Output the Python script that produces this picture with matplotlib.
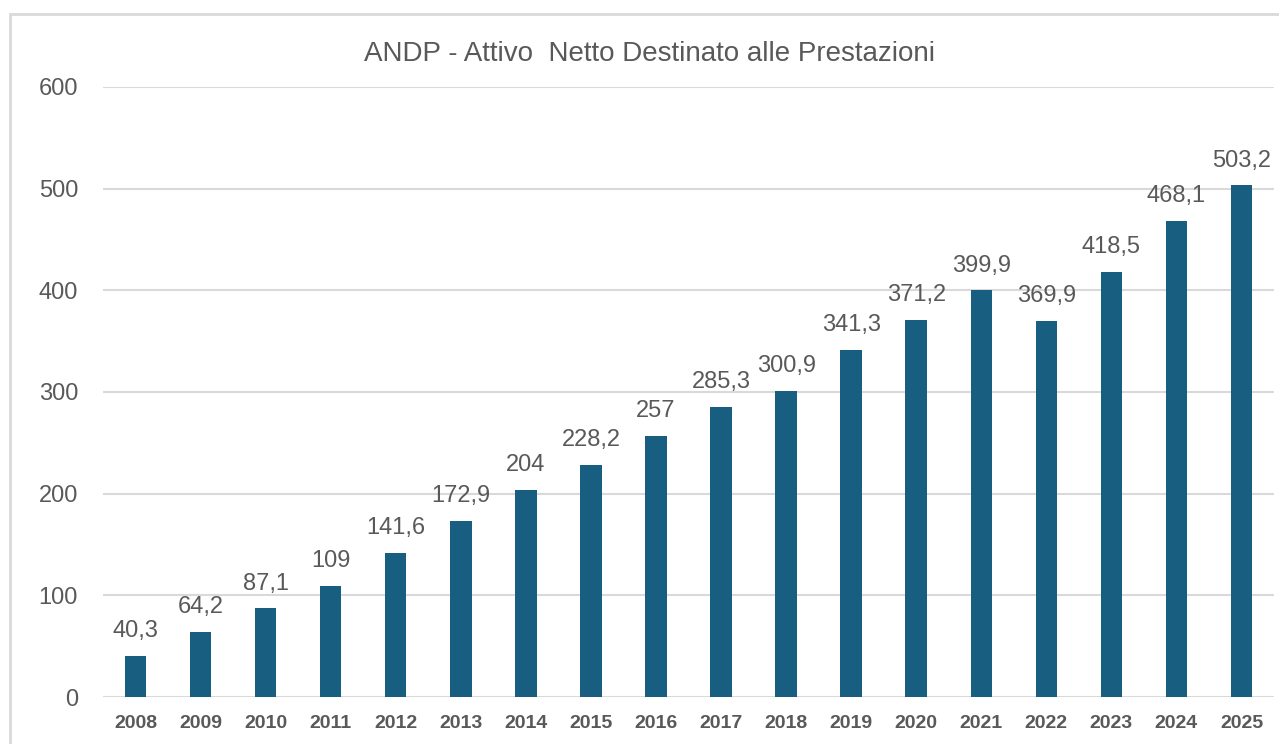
import numpy as np
import matplotlib.pyplot as plt
from matplotlib.patches import Rectangle

anni = ['2008', '2009', '2010', '2011', '2012', '2013', '2014', '2015', '2016',
        '2017', '2018', '2019', '2020', '2021', '2022', '2023', '2024', '2025']
andp = [40.3, 64.2, 87.1, 109, 141.6, 172.9, 204, 228.2, 257,
        285.3, 300.9, 341.3, 371.2, 399.9, 369.9, 418.5, 468.1, 503.2]
y_ticks = [0, 100, 200, 300, 400, 500, 600]

plt.rcParams['font.family'] = ['Liberation Sans', 'DejaVu Sans']
grigio = '#595959'

fig = plt.figure(figsize=(12.79, 7.44), dpi=100)
ax = fig.add_axes([103 / 1279, 1 - 697 / 744, 1171 / 1279, 610 / 744])

x = np.arange(len(anni))
bars = ax.bar(x, andp, width=0.33, color='#175e80', zorder=3)

for xi, v in zip(x, andp):
    s = ('%g' % v).replace('.', ',')
    ax.annotate(s, (xi, v), xytext=(0, 10), textcoords='offset points',
                ha='center', va='bottom', fontsize=17, color=grigio)

ax.set_xlim(-0.5, len(anni) - 0.5)
ax.set_ylim(0, 600)
ax.set_yticks(y_ticks)
ax.set_xticks(x)
ax.set_xticklabels(anni, fontsize=14, fontweight='bold', color=grigio)
ax.tick_params(axis='y', length=0, pad=18, labelsize=17, labelcolor=grigio)
ax.tick_params(axis='x', length=0, pad=13)
ax.grid(axis='y', color='#d9d9d9', linewidth=1.5, zorder=0)
for sp in ax.spines.values():
    sp.set_visible(False)

fig.text(650 / 1279, 1 - 54 / 744, 'ANDP - Attivo  Netto Destinato alle Prestazioni',
         ha='center', va='center', fontsize=20, color=grigio)

# cornice del grafico (tagliata a destra e in basso)
fig.patches.append(Rectangle((10 / 1279, -0.05), 1.1, 1 - 14 / 744 + 0.05,
                             transform=fig.transFigure, fill=False,
                             edgecolor='#d9d9d9', linewidth=2, clip_on=False))

plt.savefig('out.png', dpi=100)
